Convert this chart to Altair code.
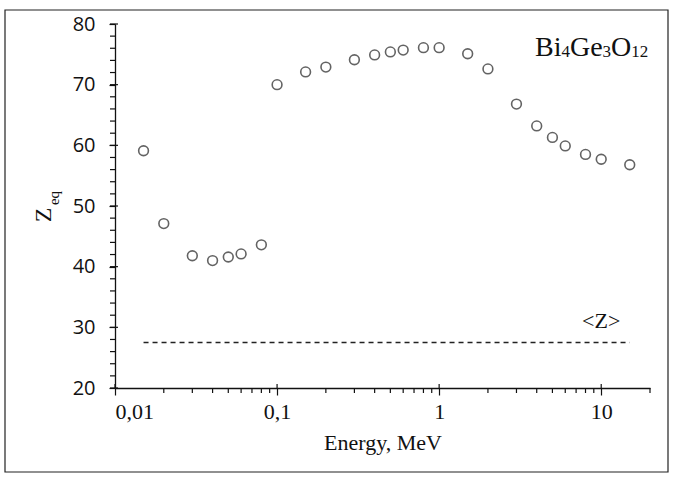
import altair as alt
import pandas as pd

# Photon energy (MeV) and effective atomic number of Bi4Ge3O12
energy = [0.015, 0.02, 0.03, 0.04, 0.05, 0.06, 0.08, 0.1, 0.15, 0.2, 0.3, 0.4,
          0.5, 0.6, 0.8, 1.0, 1.5, 2.0, 3.0, 4.0, 5.0, 6.0, 8.0, 10.0, 15.0]
z_eq = [59.1, 47.1, 41.8, 41.0, 41.6, 42.1, 43.6, 70.0, 72.1, 72.9, 74.1, 74.9,
        75.4, 75.7, 76.1, 76.1, 75.1, 72.6, 66.8, 63.2, 61.3, 59.9, 58.5, 57.7, 56.8]

# Mean atomic number <Z> drawn as a reference line
z_mean = 27.5
z_mean_span = [0.015, 15.0]

x_major = [0.01, 0.1, 1, 10]
x_minor = [0.02, 0.03, 0.04, 0.05, 0.06, 0.07, 0.08, 0.09,
           0.2, 0.3, 0.4, 0.5, 0.6, 0.7, 0.8, 0.9,
           2, 3, 4, 5, 6, 7, 8, 9, 20]
y_major = [20, 30, 40, 50, 60, 70, 80]
y_minor = list(range(20, 81, 2))

formula = [("Bi", False), ("4", True), ("Ge", False), ("3", True), ("O", False), ("12", True)]

SERIF = "Liberation Serif"
SANS = "Open Sans"
INK = "#111"
H = 364

pts = pd.DataFrame({"E": energy, "Z": z_eq})
ref = pd.DataFrame({"E": z_mean_span, "Z": [z_mean] * 2})
one = pd.DataFrame({"a": [0]})

xs = alt.Scale(type="log", domain=[0.01, 20], nice=False)
ys = alt.Scale(domain=[20, 80], nice=False, zero=False)

x_axis = alt.Axis(values=x_major, format="~g",
                  labelExpr="replace(datum.label, '.', ',')",
                  tickSize=7, labelPadding=6, title="Energy, MeV", titlePadding=10)
y_axis = alt.Axis(values=y_major, tickSize=6, labelPadding=14, title=None,
                  labelFont=SANS, labelFontSize=20)


def ex(field):
    return alt.X(field, type="quantitative", scale=xs, axis=x_axis)


def ey(field):
    return alt.Y(field, type="quantitative", scale=ys, axis=y_axis)


frame = alt.Chart(one).mark_rect(filled=False, stroke="#222", strokeWidth=1.2).encode(
    x=alt.value(-110), x2=alt.value(553), y=alt.value(-14), y2=alt.value(448))

points = alt.Chart(pts).mark_point(shape="circle", filled=False, size=95,
                                   stroke="#222", strokeWidth=1.6).encode(
    x=ex("E"), y=ey("Z"))

# Minor ticks below the energy axis and left of the Z axis
x_minor_ticks = alt.Chart(pd.DataFrame({"E": x_minor})).mark_rule(
    color=INK, strokeWidth=1.2).encode(x=ex("E"), y=alt.value(H), y2=alt.value(H + 5))
x_major_inner = alt.Chart(pd.DataFrame({"E": x_major})).mark_rule(
    color=INK, strokeWidth=1.2).encode(x=ex("E"), y=alt.value(H - 4), y2=alt.value(H))
y_minor_ticks = alt.Chart(pd.DataFrame({"Z": y_minor})).mark_rule(
    color=INK, strokeWidth=1.2).encode(y=ey("Z"), x=alt.value(-5), x2=alt.value(0))
y_major_inner = alt.Chart(pd.DataFrame({"Z": y_major})).mark_rule(
    color=INK, strokeWidth=1.2).encode(y=ey("Z"), x=alt.value(0), x2=alt.value(3))

line = alt.Chart(ref).mark_line(color="#222", strokeWidth=1.3, strokeDash=[5, 4]).encode(
    x=ex("E"), y=ey("Z"))

zlabel = alt.Chart(pd.DataFrame({"E": [10.0], "Z": [31.0], "t": ["<Z>"]})).mark_text(
    font=SERIF, fontSize=22, color=INK).encode(x=ex("E"), y=ey("Z"), text="t:N")

# Axis title Z_eq, rotated, with its subscript
ytitle = [
    alt.Chart(one).mark_text(text="Z", font=SERIF, fontSize=24, angle=270,
                             align="center", baseline="middle", color=INK).encode(
        x=alt.value(-71), y=alt.value(191)),
    alt.Chart(one).mark_text(text="eq", font=SERIF, fontSize=15, angle=270,
                             align="center", baseline="middle", color=INK).encode(
        x=alt.value(-61), y=alt.value(174)),
]

# Chemical formula with subscripted counts
label_parts = []
cx = 420.0
for txt, sub in formula:
    fs = 17 if sub else 28
    w = {"Bi": 0.945, "Ge": 1.166, "O": 0.722}.get(txt, 0.5 * len(txt)) * fs
    label_parts.append(
        alt.Chart(one).mark_text(text=txt, font=SERIF, fontSize=fs, align="left",
                                 baseline="alphabetic", color=INK).encode(
            x=alt.value(cx), y=alt.value(32 if not sub else 33)))
    cx += w

chart = alt.layer(points, x_minor_ticks, x_major_inner, y_minor_ticks, y_major_inner,
                  frame, line, zlabel, *ytitle, *label_parts).properties(
    width=535, height=H, autosize=alt.AutoSizeParams(type="none"),
    padding={"left": 115, "top": 24, "right": 26, "bottom": 92}
).configure_view(stroke=None).configure_axis(
    grid=False, domainColor=INK, domainWidth=1.3, tickColor=INK, tickWidth=1.2,
    labelFont=SERIF, labelFontSize=22, labelColor=INK,
    titleFont=SERIF, titleFontSize=22, titleFontWeight="normal", titleColor=INK
)

chart.save("out.html", embed_options={"renderer": "svg", "actions": False})
